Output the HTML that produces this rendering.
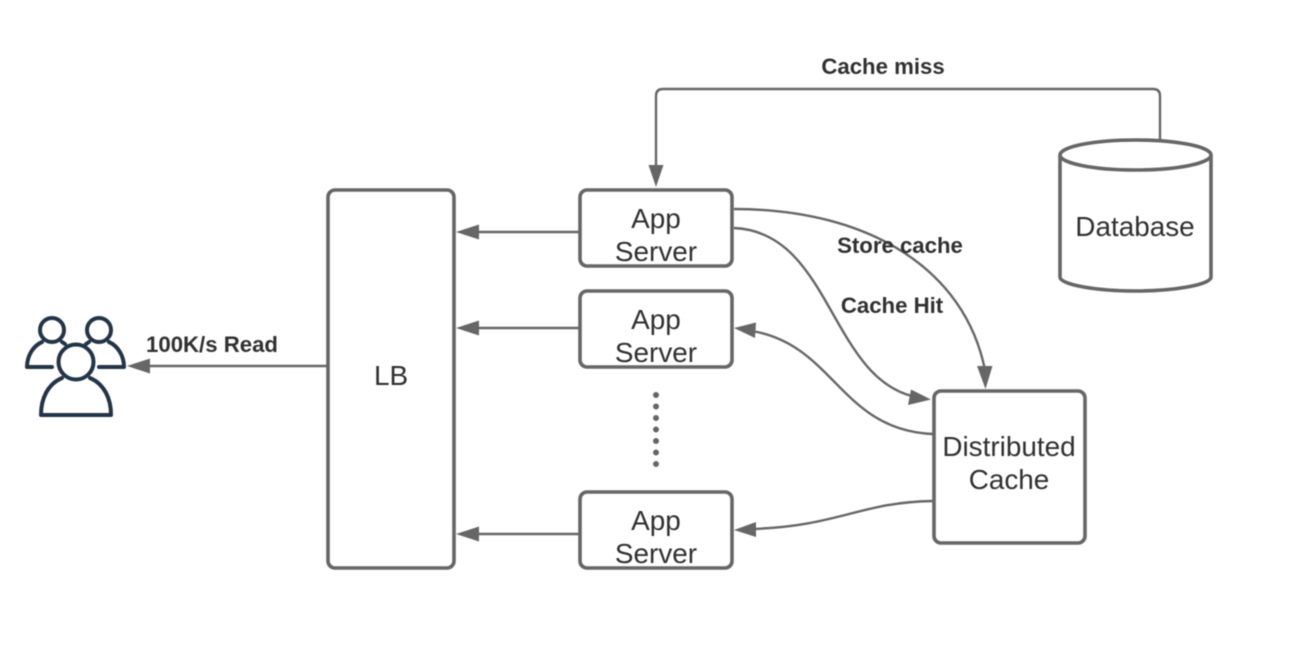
<!DOCTYPE html>
<html><head><meta charset="utf-8"><style>
html,body{margin:0;padding:0;background:#fff;width:1296px;height:650px;overflow:hidden}
svg{display:block;filter:blur(0.45px)}
text{font-family:"Liberation Sans",sans-serif;fill:#303030}
.n{font-size:27.9px;text-anchor:middle}
.b{font-size:22.2px;font-weight:bold;text-anchor:middle}
.box{fill:#fff;stroke:#666;stroke-width:3.6}
.l{fill:none;stroke:#666;stroke-width:2.4}
.a{fill:#666}
.u{fill:none;stroke:#233446;stroke-width:4;stroke-linecap:round;stroke-linejoin:round}
</style></head><body>
<svg width="1296" height="650" viewBox="0 0 1296 650">
<rect class="box" x="328" y="190" width="126" height="378" rx="7"/>
<rect class="box" x="580" y="190" width="152" height="76" rx="7"/>
<rect class="box" x="580" y="291" width="152" height="76" rx="7"/>
<rect class="box" x="580" y="492" width="152" height="76" rx="7"/>
<rect class="box" x="934" y="391" width="151" height="152" rx="7"/>

<path class="box" d="M1060 155V277C1060 285 1098 291 1135.500 291S1211 285 1211 277V155"/>
<ellipse class="box" cx="1135.500" cy="155" rx="75.500" ry="15"/>

<path class="l" d="M1160 139V96Q1160 89 1153 89H663Q656 89 656 96V168"/>
<polygon class="a" points="656,187 648.500,165 663.500,165"/>

<path class="l" d="M580 232H476"/><polygon class="a" points="456,232 479,224.500 479,239.500"/>
<path class="l" d="M580 328H476"/><polygon class="a" points="456,328 479,320.500 479,335.500"/>
<path class="l" d="M580 534H476"/><polygon class="a" points="456,534 479,526.500 479,541.500"/>
<path class="l" d="M328 366H148"/><polygon class="a" points="127,366 150,358.500 150,373.500"/>

<path class="l" d="M734 209C870 209 965 270 985 370"/>
<polygon class="a" points="985.500,389 977,366 992.500,366"/>
<path class="l" d="M734 228C830 232 830 375 912 396"/>
<polygon class="a" points="931,399.500 908,405 911,389.500"/>
<path class="l" d="M933 434C840 430 835 345 752 331"/>
<polygon class="a" points="734,328 756,322.500 755,338"/>
<path class="l" d="M933 501C860 502 840 526 752 529"/>
<polygon class="a" points="734,530 756,522 756,537"/>

<path d="M656 395V466" fill="none" stroke="#666" stroke-width="6" stroke-linecap="round" stroke-dasharray="0 11.500"/>

<text class="n" x="656" y="228">App</text><text class="n" x="656" y="261">Server</text>
<text class="n" x="656" y="329">App</text><text class="n" x="656" y="362">Server</text>
<text class="n" x="656" y="530">App</text><text class="n" x="656" y="563">Server</text>
<text class="n" x="391" y="385">LB</text>
<text class="n" x="1009" y="456">Distributed</text><text class="n" x="1009" y="489">Cache</text>
<text class="n" x="1135" y="236">Database</text>
<text class="b" x="883" y="74">Cache miss</text>
<text class="b" x="900" y="253">Store cache</text>
<text class="b" x="892" y="313">Cache Hit</text>
<text class="b" x="212" y="352">100K/s Read</text>

<g class="u">
<circle cx="52" cy="330" r="12"/>
<path d="M42 342C33 346 27 356 27 367H52"/>
<path d="M62 342L65 344"/>
<circle cx="99" cy="330" r="12"/>
<path d="M109 342C118 346 124 356 124 367H99"/>
<path d="M89 342L86 344"/>
<circle cx="76" cy="362" r="17.500"/>
<path d="M62 378C48 384 41 398 41 415H111C111 398 104 384 90 378"/>
</g>
</svg>
</body></html>
